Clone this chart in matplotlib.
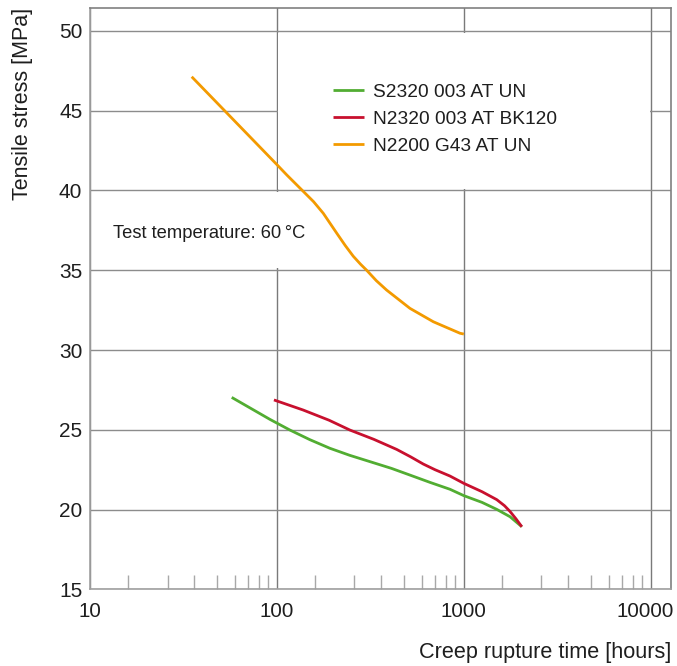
import matplotlib
matplotlib.use("Agg")
import matplotlib.pyplot as plt
from matplotlib.patches import Rectangle
from matplotlib.ticker import NullFormatter, FixedLocator
from matplotlib.transforms import ScaledTranslation

plt.rcParams['font.family'] = ['Liberation Sans', 'DejaVu Sans']

# ---- data ----
green_label = "S2320 003 AT UN"
green_x = [57.3, 91.8, 117.5, 150, 192, 245, 315, 410, 515, 660, 843, 1000, 1250, 1500, 1766, 2043]
green_y = [27.03, 25.65, 24.98, 24.38, 23.84, 23.4, 23.0, 22.58, 22.16, 21.7, 21.27, 20.87, 20.45, 20.01, 19.55, 18.92]

red_label = "N2320 003 AT BK120"
red_x = [96.4, 138, 190, 246, 330, 437, 520, 607, 700, 843, 1000, 1250, 1500, 1650, 1766, 1900, 2043]
red_y = [26.87, 26.24, 25.6, 24.98, 24.4, 23.77, 23.3, 22.85, 22.5, 22.1, 21.64, 21.12, 20.62, 20.24, 19.88, 19.42, 18.92]

orange_label = "N2200 G43 AT UN"
orange_x = [35, 100, 113, 136, 157, 177, 209, 232, 256, 280, 302, 340, 386, 515, 687, 954, 1000]
orange_y = [47.13, 41.62, 40.97, 40.03, 39.3, 38.57, 37.32, 36.55, 35.88, 35.38, 35.0, 34.35, 33.76, 32.61, 31.77, 31.05, 31.0]

x_major = [10, 100, 1000, 10000]
x_major_labels = ["10", "100", "1000", "10000"]
y_ticks = [15, 20, 25, 30, 35, 40, 45, 50]
minor_mult = [1.6, 2.6, 3.6, 4.8, 6, 7, 8, 9]
minor_decades = [10, 100, 1000]

note = "Test temperature: 60\u2009°C"
xlabel = "Creep rupture time [hours]"
ylabel = "Tensile stress [MPa]"

# ---- figure ----
fig = plt.figure(figsize=(6.77, 6.66), dpi=100)
ax = fig.add_axes([90/677, 1 - 589.3/666, 581/677, 581/666])
ax.set_xscale('log')
ax.set_xlim(10, 12830)
ax.set_ylim(15, 51.42)

txt_color = '#1e1e1e'
grid_v = '#7a7a7a'
grid_h = '#8c8c8c'
spine_c = '#a0a0a0'

ax.set_axisbelow(True)
ax.xaxis.set_major_locator(FixedLocator(x_major))
ax.set_xticklabels(x_major_labels)
ax.xaxis.set_minor_locator(FixedLocator([d * m for d in minor_decades for m in minor_mult]))
ax.xaxis.set_minor_formatter(NullFormatter())
ax.set_yticks(y_ticks)
ax.set_yticklabels([str(v) for v in y_ticks])

ax.tick_params(axis='x', which='major', length=0, pad=9.5, labelsize=14.8, labelcolor=txt_color)
ax.tick_params(axis='x', which='minor', direction='in', length=10, width=1.0, color='#a8a8a8')
ax.tick_params(axis='y', which='both', length=0, pad=5.5, labelsize=15, labelcolor=txt_color)

ax.grid(True, which='major', axis='x', color=grid_v, linewidth=1.0)
ax.grid(True, which='major', axis='y', color=grid_h, linewidth=1.0)
for s in ax.spines.values():
    s.set_color(spine_c)
    s.set_linewidth(1.2)
ax.spines['right'].set_color('#808080')
ax.spines['top'].set_color('#808080')

# white boxes behind the annotation and the legend
ax.add_patch(Rectangle((10.2, 35.12), 110 - 10.2, 39.88 - 35.12, facecolor='white',
                       edgecolor='none', zorder=1))
ax.add_patch(Rectangle((101, 40.12), 9900 - 101, 49.88 - 40.12, facecolor='white',
                       edgecolor='none', zorder=1))

lw = 2.0
ax.plot(green_x, green_y, color='#52ad32', lw=lw, label=green_label, zorder=3,
        solid_capstyle='butt', solid_joinstyle='round')
ax.plot(red_x, red_y, color='#c8102e', lw=lw, label=red_label, zorder=4,
        solid_capstyle='butt', solid_joinstyle='round')
ax.plot(orange_x, orange_y, color='#f39a00', lw=lw, label=orange_label, zorder=3,
        solid_capstyle='butt', solid_joinstyle='round')

leg = ax.legend(loc='upper left', bbox_to_anchor=(0.418, 0.871), frameon=False,
                fontsize=13.8, handlelength=1.65, handletextpad=0.42,
                labelspacing=0.5, borderpad=0, borderaxespad=0)
for t in leg.get_texts():
    t.set_color(txt_color)

ax.text(0.0396, 0.604, note, transform=ax.transAxes, fontsize=13.2, color=txt_color,
        va='baseline', ha='left')

ax.set_xlabel(xlabel, loc='right', fontsize=15.6, color=txt_color)
ax.xaxis.set_label_coords(1.0, -0.09)
ax.set_ylabel(ylabel, loc='top', fontsize=15.5, color=txt_color)
ax.yaxis.set_label_coords(-0.098, 1.0)

# the last x tick label sits a little left of its grid line, as in the reference
fig.canvas.draw()
last = ax.get_xticklabels()[-1]
last.set_horizontalalignment('right')
last.set_transform(last.get_transform() + ScaledTranslation(23 / 100, 0, fig.dpi_scale_trans))

fig.savefig("out.png", dpi=100)
